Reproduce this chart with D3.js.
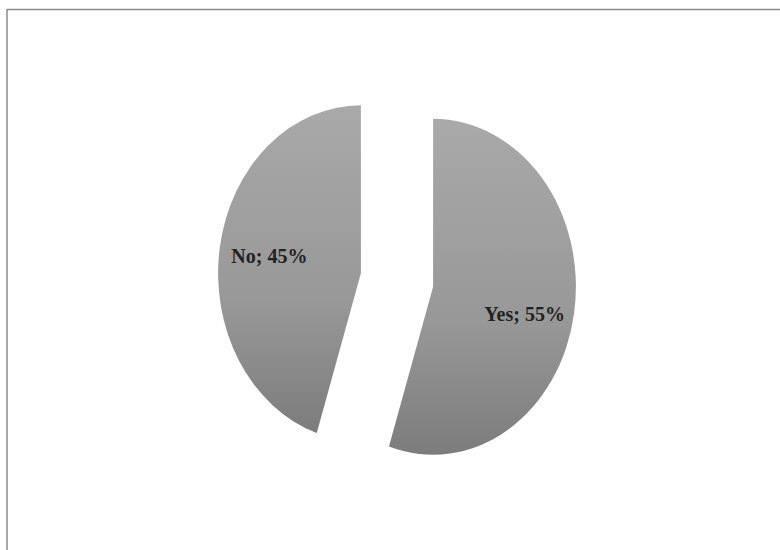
<!DOCTYPE html>
<html>
<head>
<meta charset="utf-8">
<script src="https://cdn.jsdelivr.net/npm/d3@7"></script>
<style>
  body { margin: 0; background: #fff; }
  #chart { width: 780px; height: 550px; }
</style>
</head>
<body>
<div id="chart"></div>
<script>
// slice data, clockwise from 12 o'clock
const categories = ["Yes", "No"];
const shares = [55, 45];

const width = 780, height = 550;
const cx = 397, cy = 280;
const radius = 168;
const squash = 0.85;   // the scan is narrower than it is tall
const explode = 43;

const svg = d3.select("#chart")
    .append("svg")
    .attr("width", width)
    .attr("height", height);

// frame (only top and left edges survive in the scan)
svg.append("line")
    .attr("x1", 7).attr("x2", width).attr("y1", 9.5).attr("y2", 9.5)
    .attr("stroke", "#8a8a8a").attr("stroke-width", 1.5);
svg.append("line")
    .attr("x1", 7).attr("x2", 7).attr("y1", 9).attr("y2", height)
    .attr("stroke", "#8a8a8a").attr("stroke-width", 1.5);

const grad = svg.append("defs").append("linearGradient")
    .attr("id", "gray")
    .attr("x1", 0).attr("y1", 0).attr("x2", 0).attr("y2", 1);
grad.append("stop").attr("offset", "0%").attr("stop-color", "#a9a9a9");
grad.append("stop").attr("offset", "60%").attr("stop-color", "#989898");
grad.append("stop").attr("offset", "100%").attr("stop-color", "#7c7c7c");

const pie = d3.pie().sort(null).value(d => d.value);
const slices = pie(categories.map((c, i) => ({ name: c, value: shares[i] })));

const arc = d3.arc().innerRadius(0).outerRadius(radius);
const labelArc = d3.arc().innerRadius(109).outerRadius(109);

// offset of each slice along its bisector
function offset(d) {
    const a = (d.startAngle + d.endAngle) / 2;
    return [Math.sin(a) * explode, -Math.cos(a) * explode];
}

const g = svg.append("g")
    .attr("transform", "translate(" + cx + "," + cy + ") scale(" + squash + ",1)");

g.selectAll("path")
    .data(slices)
    .enter()
    .append("path")
    .attr("transform", d => "translate(" + offset(d) + ")")
    .attr("d", arc)
    .attr("fill", "url(#gray)");

svg.append("g")
    .selectAll("text")
    .data(slices)
    .enter()
    .append("text")
    .attr("x", d => cx + (labelArc.centroid(d)[0] + offset(d)[0]) * squash)
    .attr("y", d => cy + labelArc.centroid(d)[1] + offset(d)[1] + (d.data.name == "Yes" ? 10 : 0))
    .attr("text-anchor", "middle")
    .attr("dominant-baseline", "central")
    .attr("font-family", "Liberation Serif, serif")
    .attr("font-weight", "bold")
    .attr("font-size", 20)
    .attr("fill", "#222")
    .text(d => d.data.name + "; " + d.data.value + "%");
</script>
</body>
</html>
